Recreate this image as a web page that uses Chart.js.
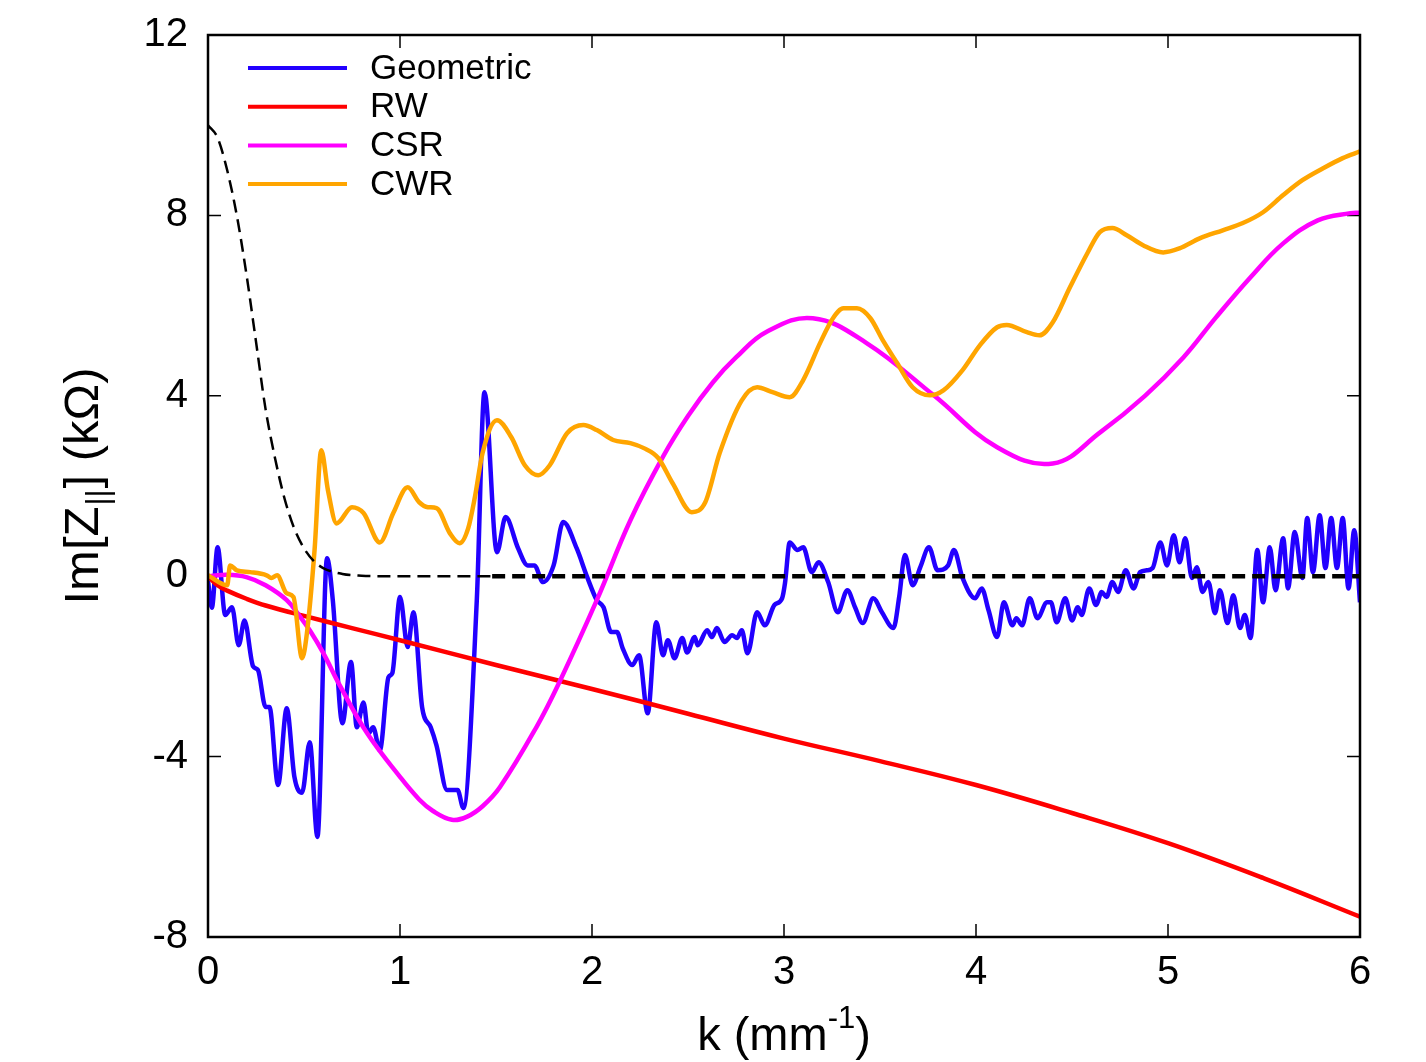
<!DOCTYPE html>
<html>
<head>
<meta charset="utf-8">
<script src="https://cdn.jsdelivr.net/npm/chart.js@4.4.0/dist/chart.umd.min.js"></script>
<style>
  html, body { margin: 0; padding: 0; background: #fff; }
  #wrap { width: 1426px; height: 1062px; }
</style>
</head>
<body>
<div id="wrap"><canvas id="impChart"></canvas></div>
<script>
// values, [k (mm^-1), Im[Z] (kOhm)]
const geometric = [
  [0, -0.1], [0.02, -0.7], [0.05, 0.64], [0.09, -0.86], [0.125, -0.69], [0.16, -1.53], [0.19, -0.98],
  [0.235, -2.0], [0.26, -2.08], [0.3, -2.9], [0.32, -2.9], [0.365, -4.63], [0.41, -2.93], [0.45, -4.45],
  [0.49, -4.8], [0.53, -3.68], [0.57, -5.78], [0.62, 0.4], [0.65, -0.53], [0.7, -3.26], [0.745, -1.9],
  [0.775, -3.35], [0.81, -2.8], [0.835, -3.49], [0.86, -3.35], [0.895, -3.86], [0.94, -2.24], [0.96, -2.15],
  [1.0, -0.46], [1.04, -1.57], [1.07, -0.8], [1.115, -2.9], [1.16, -3.35], [1.19, -3.75], [1.245, -4.74],
  [1.3, -4.74], [1.33, -5.14], [1.4, -0.53], [1.44, 4.08], [1.505, 0.53], [1.55, 1.31], [1.615, 0.62],
  [1.665, 0.24], [1.7, 0.24], [1.745, -0.13], [1.8, 0.24], [1.85, 1.2], [1.92, 0.62], [1.975, -0.02],
  [2.025, -0.53], [2.06, -0.69], [2.1, -1.24], [2.13, -1.24], [2.16, -1.6], [2.21, -1.97], [2.245, -1.75],
  [2.29, -3.04], [2.335, -1.02], [2.37, -1.75], [2.395, -1.42], [2.43, -1.82], [2.47, -1.37], [2.495, -1.69],
  [2.535, -1.35], [2.55, -1.53], [2.6, -1.2], [2.625, -1.35], [2.65, -1.15], [2.69, -1.46], [2.73, -1.31],
  [2.755, -1.37], [2.78, -1.2], [2.81, -1.71], [2.86, -0.8], [2.9, -1.09], [2.95, -0.64], [2.99, -0.49],
  [3.005, -0.16], [3.03, 0.75], [3.07, 0.58], [3.1, 0.64], [3.145, 0.09], [3.18, 0.31], [3.23, -0.13],
  [3.28, -0.8], [3.33, -0.31], [3.37, -0.69], [3.41, -1.04], [3.465, -0.49], [3.51, -0.8], [3.57, -1.15],
  [3.6, -0.46], [3.63, 0.47], [3.67, -0.2], [3.71, 0.2], [3.755, 0.64], [3.8, 0.13], [3.855, 0.24],
  [3.885, 0.58], [3.93, -0.04], [3.995, -0.49], [4.03, -0.27], [4.065, -0.75], [4.11, -1.35], [4.145, -0.58],
  [4.19, -1.09], [4.21, -0.93], [4.24, -1.09], [4.28, -0.49], [4.32, -0.93], [4.37, -0.58], [4.39, -0.58],
  [4.42, -1.02], [4.465, -0.49], [4.5, -0.98], [4.53, -0.69], [4.55, -0.86], [4.59, -0.27], [4.625, -0.64],
  [4.655, -0.35], [4.68, -0.46], [4.71, -0.13], [4.74, -0.35], [4.78, 0.13], [4.82, -0.27], [4.855, 0.09],
  [4.89, 0.13], [4.92, 0.18], [4.96, 0.75], [4.995, 0.24], [5.03, 0.91], [5.06, 0.31], [5.09, 0.84],
  [5.125, -0.04], [5.15, 0.2], [5.18, -0.35], [5.21, -0.13], [5.245, -0.82], [5.27, -0.31], [5.31, -1.04],
  [5.34, -0.42], [5.375, -1.15], [5.4, -0.86], [5.43, -1.37], [5.465, 0.58], [5.495, -0.58], [5.53, 0.64],
  [5.56, -0.31], [5.6, 0.84], [5.625, -0.27], [5.66, 0.98], [5.7, -0.04], [5.725, 1.29], [5.755, 0.09],
  [5.79, 1.35], [5.82, 0.18], [5.85, 1.29], [5.88, 0.18], [5.91, 1.29], [5.94, -0.27], [5.97, 1.02], [6.0, -0.58]
];

const rw = [
  [0, 0], [0.05, -0.2], [0.1, -0.32], [0.2, -0.5], [0.3, -0.65], [0.5, -0.88], [0.75, -1.15], [1.0, -1.42],
  [1.5, -1.97], [2.0, -2.5], [2.5, -3.05], [3.0, -3.6], [3.5, -4.1], [4.0, -4.63], [4.5, -5.25],
  [5.0, -5.92], [5.5, -6.7], [6.0, -7.55]
];

const csr = [
  [0, 0], [0.1, 0.03], [0.2, -0.02], [0.3, -0.2], [0.41, -0.53], [0.48, -0.9], [0.53, -1.2], [0.6, -1.7],
  [0.69, -2.45], [0.83, -3.49], [1.0, -4.45], [1.1, -4.95], [1.17, -5.2], [1.27, -5.4], [1.35, -5.33],
  [1.43, -5.1], [1.52, -4.68], [1.71, -3.35], [1.83, -2.35], [2.025, -0.53], [2.2, 1.24], [2.37, 2.65],
  [2.5, 3.55], [2.63, 4.3], [2.75, 4.85], [2.91, 5.42], [3.15, 5.72], [3.43, 5.17], [3.78, 4.01],
  [4.11, 2.86], [4.4, 2.5], [4.65, 3.2], [4.88, 4.0], [5.08, 4.85], [5.25, 5.74], [5.43, 6.63],
  [5.6, 7.38], [5.78, 7.89], [5.95, 8.05], [6.0, 8.06]
];

const cwr = [
  [0, 0.02], [0.1, -0.2], [0.115, 0.24], [0.15, 0.13], [0.22, 0.09], [0.305, 0.02], [0.33, -0.04],
  [0.36, 0.02], [0.41, -0.38], [0.445, -0.46], [0.49, -1.82], [0.515, -1.27], [0.555, 0.58], [0.59, 2.79],
  [0.625, 1.9], [0.67, 1.17], [0.75, 1.53], [0.81, 1.4], [0.895, 0.75], [0.965, 1.4], [1.04, 1.97],
  [1.1, 1.64], [1.145, 1.53], [1.19, 1.51], [1.26, 0.95], [1.31, 0.73], [1.355, 1.06], [1.39, 1.75],
  [1.43, 2.73], [1.505, 3.46], [1.58, 3.08], [1.65, 2.46], [1.72, 2.24], [1.78, 2.46], [1.87, 3.17],
  [1.955, 3.35], [2.025, 3.24], [2.11, 3.02], [2.2, 2.95], [2.27, 2.84], [2.345, 2.62], [2.42, 2.06],
  [2.52, 1.42], [2.59, 1.64], [2.665, 2.73], [2.78, 3.9], [2.86, 4.19], [2.94, 4.08], [3.03, 3.97],
  [3.1, 4.35], [3.19, 5.19], [3.255, 5.72], [3.31, 5.94], [3.38, 5.94], [3.45, 5.72], [3.515, 5.23],
  [3.59, 4.72], [3.67, 4.19], [3.76, 4.01], [3.83, 4.12], [3.93, 4.57], [4.02, 5.12], [4.11, 5.52],
  [4.16, 5.57], [4.265, 5.41], [4.33, 5.34], [4.4, 5.63], [4.49, 6.41], [4.58, 7.16], [4.645, 7.63],
  [4.71, 7.72], [4.785, 7.56], [4.87, 7.34], [4.975, 7.18], [5.06, 7.27], [5.165, 7.49], [5.285, 7.67],
  [5.39, 7.83], [5.495, 8.07], [5.6, 8.45], [5.7, 8.78], [5.81, 9.05], [5.91, 9.27], [6.0, 9.42]
];

// thin dashed bump near k = 0 and the thick dashed zero line
const bunch = [
  [0, 10], [0.05, 9.72], [0.1, 9.0], [0.15, 8.0], [0.2, 6.7], [0.25, 5.2], [0.3, 3.7], [0.35, 2.6],
  [0.4, 1.7], [0.45, 1.05], [0.5, 0.62], [0.55, 0.34], [0.6, 0.18], [0.7, 0.05], [0.8, 0.01], [0.9, 0],
  [1.5, 0]
];
const zeroLine = [[1.48, 0], [6.0, 0]];

const xTicks = [0, 1, 2, 3, 4, 5, 6];
const yTicks = [-8, -4, 0, 4, 8, 12];

const FONT = "'Liberation Sans', Arial, Helvetica, sans-serif";
const toPts = (arr) => arr.map(p => ({ x: p[0], y: p[1] }));

const legendItems = [
  { label: "Geometric", color: "#2200ff" },
  { label: "RW", color: "#ff0000" },
  { label: "CSR", color: "#ff00ff" },
  { label: "CWR", color: "#ffa500" },
];

// frame, inward ticks (top/bottom/left/right), legend and axis titles
const decor = {
  id: "decor",
  beforeDatasetsDraw(chart) {
    const { ctx, chartArea: a, scales } = chart;
    ctx.save();
    ctx.strokeStyle = "#000";
    ctx.lineWidth = 1.5;
    const tl = 13;
    xTicks.forEach(v => {
      const x = scales.x.getPixelForValue(v);
      ctx.beginPath();
      ctx.moveTo(x, a.bottom); ctx.lineTo(x, a.bottom - tl);
      ctx.moveTo(x, a.top); ctx.lineTo(x, a.top + tl);
      ctx.stroke();
    });
    yTicks.forEach(v => {
      const y = scales.y.getPixelForValue(v);
      ctx.beginPath();
      ctx.moveTo(a.left, y); ctx.lineTo(a.left + tl, y);
      ctx.moveTo(a.right, y); ctx.lineTo(a.right - tl, y);
      ctx.stroke();
    });
    ctx.restore();
  },
  afterDraw(chart) {
    const { ctx, chartArea: a } = chart;
    ctx.save();
    ctx.strokeStyle = "#000";
    ctx.lineWidth = 2.5;
    ctx.strokeRect(a.left, a.top, a.right - a.left, a.bottom - a.top);

    // legend
    ctx.font = "35px " + FONT;
    ctx.textBaseline = "middle";
    ctx.textAlign = "left";
    legendItems.forEach((it, i) => {
      const y = 68 + i * 38.7;
      ctx.strokeStyle = it.color;
      ctx.lineWidth = 4;
      ctx.beginPath();
      ctx.moveTo(248, y); ctx.lineTo(347, y);
      ctx.stroke();
      ctx.fillStyle = "#000";
      ctx.fillText(it.label, 370, y + 1);
    });

    // x title: k (mm^-1)
    ctx.fillStyle = "#000";
    ctx.textBaseline = "alphabetic";
    const big = "47px " + FONT, small = "31px " + FONT;
    ctx.font = big;
    const p1 = "k (mm", p3 = ")";
    ctx.font = small; const w2 = ctx.measureText("-1").width;
    ctx.font = big;
    const w1 = ctx.measureText(p1).width, w3 = ctx.measureText(p3).width;
    let x0 = (a.left + a.right) / 2 - (w1 + w2 + w3) / 2;
    const by = 1050;
    ctx.fillText(p1, x0, by);
    ctx.font = small; ctx.fillText("-1", x0 + w1, by - 22);
    ctx.font = big; ctx.fillText(p3, x0 + w1 + w2, by);

    // y title: Im[Z_||] (kΩ)
    const bigY = "49px " + FONT;
    ctx.translate(98, 487);
    ctx.rotate(-Math.PI / 2);
    const q1 = "Im[Z", q2 = "||", q3 = "] (kΩ)";
    ctx.font = small; const v2 = ctx.measureText(q2).width;
    ctx.font = bigY;
    const v1 = ctx.measureText(q1).width, v3 = ctx.measureText(q3).width;
    let y0 = -(v1 + v2 + v3) / 2;
    ctx.fillText(q1, y0, 0);
    ctx.font = small; ctx.fillText(q2, y0 + v1 + 1, 10);
    ctx.font = bigY; ctx.fillText(q3, y0 + v1 + v2 + 2, 0);
    ctx.restore();
  }
};

const line = (data, color, width, order, opts) => Object.assign({
  data: toPts(data),
  borderColor: color,
  borderWidth: width,
  pointRadius: 0,
  fill: false,
  cubicInterpolationMode: "monotone",
  order: order,
}, opts || {});

const smooth = { cubicInterpolationMode: "default", tension: 0.4 };

new Chart(document.getElementById("impChart"), {
  type: "line",
  data: {
    datasets: [
      line(geometric, "#2200ff", 4.5, 5),
      line(rw, "#ff0000", 4.5, 4, smooth),
      line(csr, "#ff00ff", 4.5, 3, smooth),
      line(cwr, "#ffa500", 4.5, 2),
      line(bunch, "#000", 2.5, 1, { borderDash: [13, 7] }),
      line(zeroLine, "#000", 4.5, 0, { borderDash: [13, 7] }),
    ],
  },
  options: {
    responsive: true,
    maintainAspectRatio: false,
    animation: false,
    layout: { padding: { top: 35, right: 66, left: 0, bottom: 0 } },
    plugins: {
      legend: { display: false },
      tooltip: { enabled: false },
    },
    scales: {
      x: {
        type: "linear",
        min: 0,
        max: 6,
        afterFit: (s) => { s.height = 125; s.paddingLeft = 0; s.paddingRight = 0; },
        afterBuildTicks: (s) => { s.ticks = xTicks.map(v => ({ value: v })); },
        grid: { display: false, drawTicks: false },
        border: { display: false },
        ticks: { padding: 12, color: "#000", font: { size: 40, family: FONT } },
      },
      y: {
        type: "linear",
        min: -8,
        max: 12,
        afterFit: (s) => { s.width = 208; s.paddingTop = 0; s.paddingBottom = 0; },
        afterBuildTicks: (s) => { s.ticks = yTicks.map(v => ({ value: v })); },
        grid: { display: false, drawTicks: false },
        border: { display: false },
        ticks: { padding: 20, color: "#000", font: { size: 40, family: FONT } },
      },
    },
  },
  plugins: [decor],
});
</script>
</body>
</html>
